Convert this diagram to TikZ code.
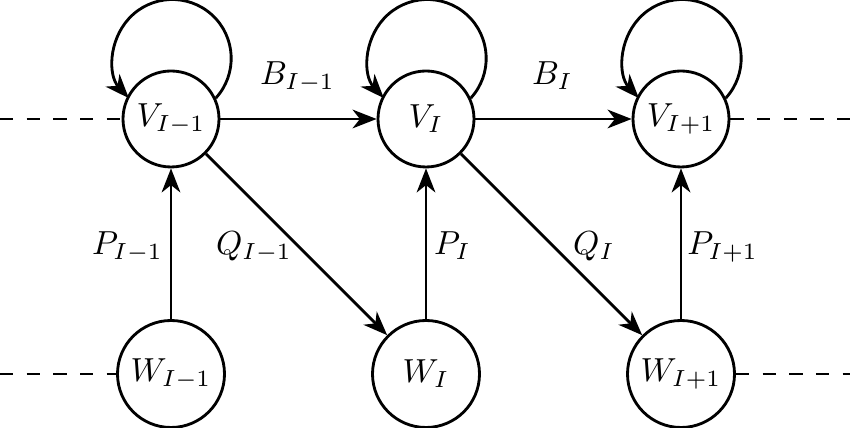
\documentclass[tikz,border=0pt]{standalone}
\usetikzlibrary{arrows.meta}
\begin{document}
\begin{tikzpicture}[x=0.3pt,y=0.3pt,
  vnode/.style={circle,draw,line width=0.85pt,minimum size=28.8pt,inner sep=0pt},
  wnode/.style={circle,draw,line width=0.85pt,minimum size=32.1pt,inner sep=0pt},
  conn/.style={-{Stealth[length=7.2pt,width=5.6pt,inset=2.2pt]},line width=0.85pt},
  dline/.style={line width=0.85pt,dash pattern=on 4pt off 4pt},
  lbl/.style={inner sep=0pt,anchor=base}]
\useasboundingbox (0,0) rectangle (850,428);
\node[vnode] (V1) at (171,309) {$V_{I-1}$};
\node[vnode] (V2) at (426,309) {$V_I$};
\node[vnode] (V3) at (681,309) {$V_{I+1}$};
\node[wnode] (W1) at (171,54) {$W_{I-1}$};
\node[wnode] (W2) at (426,54) {$W_I$};
\node[wnode] (W3) at (681,54) {$W_{I+1}$};
\coordinate (LV) at (0,309);
\coordinate (RV) at (850,309);
\coordinate (LW) at (0,54);
\coordinate (RW) at (850,54);
\draw[dline] (LV) -- (V1);
\draw[dline] (V3) -- (RV);
\draw[dline] (LW) -- (W1);
\draw[dline] (W3) -- (RW);
\draw[conn] (V1) -- (V2);
\draw[conn] (V2) -- (V3);
\draw[conn] (W1) -- (V1);
\draw[conn] (W2) -- (V2);
\draw[conn] (W3) -- (V3);
\draw[conn] (V1) -- (W2);
\draw[conn] (V2) -- (W3);
\draw[conn] (V1.25) arc[start angle=-42.4, end angle=222.4, radius=17.67pt];
\draw[conn] (V2.25) arc[start angle=-42.4, end angle=222.4, radius=17.67pt];
\draw[conn] (V3.25) arc[start angle=-42.4, end angle=222.4, radius=17.67pt];
\node[lbl] (b1) at (297.5,343) {$B_{I-1}$};
\node[lbl] (b2) at (552.5,343) {$B_I$};
\node[lbl] (p1) at (127.5,173) {$P_{I-1}$};
\node[lbl] (q1) at (254,173) {$Q_{I-1}$};
\node[lbl] (p2) at (452.5,173) {$P_I$};
\node[lbl] (q2) at (594,173) {$Q_I$};
\node[lbl] (p3) at (722.5,173) {$P_{I+1}$};
\end{tikzpicture}
\end{document}
